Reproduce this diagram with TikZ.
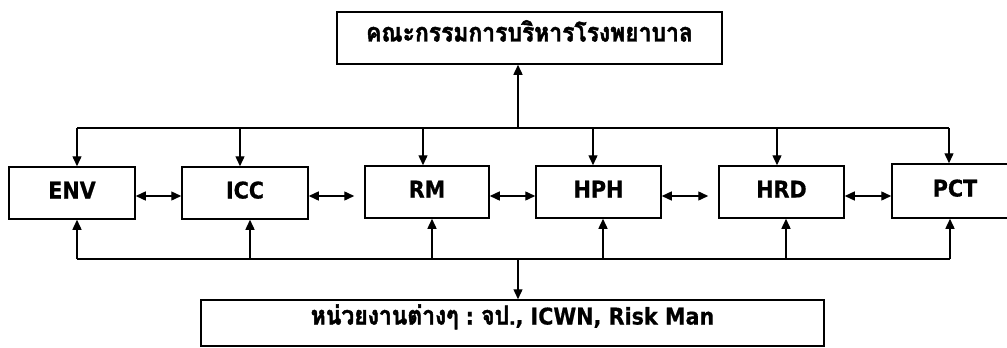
\documentclass[tikz,border=0pt]{standalone}
\usepackage{fontspec}
\setmainfont{DejaVu Sans Condensed}
\newfontfamily\thai[Script=Thai,FakeBold=1.8,FakeStretch=0.88]{Loma}
\newfontfamily\lat{DejaVu Sans Condensed}[FakeBold=0.6]
\usetikzlibrary{arrows.meta}
\begin{document}
\begin{tikzpicture}[x=1pt,y=-1pt,
  box/.style={draw,line width=1.5pt,inner sep=0pt,text height=15pt,text depth=4pt,
    font=\lat\bfseries\fontsize{23}{25}\selectfont},
  th/.style={font=\thai\bfseries\fontsize{26}{28}\selectfont},
  ln/.style={line width=1.4pt},
  arr/.style={line width=1.4pt,-{Triangle[length=10pt,width=9pt]}},
  darr/.style={line width=1.4pt,{Triangle[length=10pt,width=9pt]}-{Triangle[length=10pt,width=9pt]}}]
\useasboundingbox (0,0) rectangle (1007,348);
% boxes
\node[box,th,text height=16pt,text depth=9pt,minimum width=385pt,minimum height=52pt] (top) at (529.5,38) {คณะกรรมการบริหารโรงพยาบาล};
\node[box,minimum width=126pt,minimum height=52pt] (env) at (72,193) {ENV};
\node[box,minimum width=126pt,minimum height=52pt] (icc) at (245,193) {ICC};
\node[box,minimum width=124pt,minimum height=52pt] (rm) at (427,192) {RM};
\node[box,minimum width=125pt,minimum height=52pt] (hph) at (598.5,192) {HPH};
\node[box,minimum width=125pt,minimum height=52pt] (hrd) at (781.5,192) {HRD};
\node[box,minimum width=126pt,minimum height=54pt] (pct) at (955,191) {PCT};
\node[box,text height=17pt,text depth=14pt,minimum width=623pt,minimum height=46pt] (bot) at (512.5,323) {{\thai\bfseries\fontsize{26}{28}\selectfont หน่วยงานต่างๆ}\ :\ {\thai\bfseries\fontsize{26}{28}\selectfont จป.}, ICWN, Risk Man};
% top bus
\coordinate (t1) at (77,128);
\coordinate (t2) at (240,128);
\coordinate (t3) at (423,128);
\coordinate (tc) at (518,128);
\coordinate (t4) at (593,128);
\coordinate (t5) at (777,128);
\coordinate (t6) at (949,128);
\draw[ln] (t1) -- (t6);
\foreach \c/\n in {t1/env,t2/icc,t3/rm,t4/hph,t5/hrd,t6/pct}
  \draw[arr] (\c) -- (\c |- \n.north);
\draw[arr] (tc) -- (tc |- top.south);
% bottom bus
\coordinate (b1) at (77,259);
\coordinate (b2) at (250,259);
\coordinate (b3) at (432,259);
\coordinate (bc) at (518,259);
\coordinate (b4) at (603,259);
\coordinate (b5) at (786,259);
\coordinate (b6) at (950,259);
\draw[ln] (b1) -- (b6);
\foreach \c/\n in {b1/env,b2/icc,b3/rm,b4/hph,b5/hrd,b6/pct}
  \draw[arr] (\c) -- (\c |- \n.south);
\draw[arr] (bc) -- (bc |- bot.north);
% horizontal double arrows
\coordinate (h) at (0,196);
\draw[darr] (env.east |- h) -- (icc.west |- h);
\draw[darr,shorten >=10pt] (icc.east |- h) -- (rm.west |- h);
\draw[darr] (rm.east |- h) -- (hph.west |- h);
\draw[darr,shorten >=10pt] (hph.east |- h) -- (hrd.west |- h);
\draw[darr] (hrd.east |- h) -- (pct.west |- h);
\end{tikzpicture}
\end{document}
